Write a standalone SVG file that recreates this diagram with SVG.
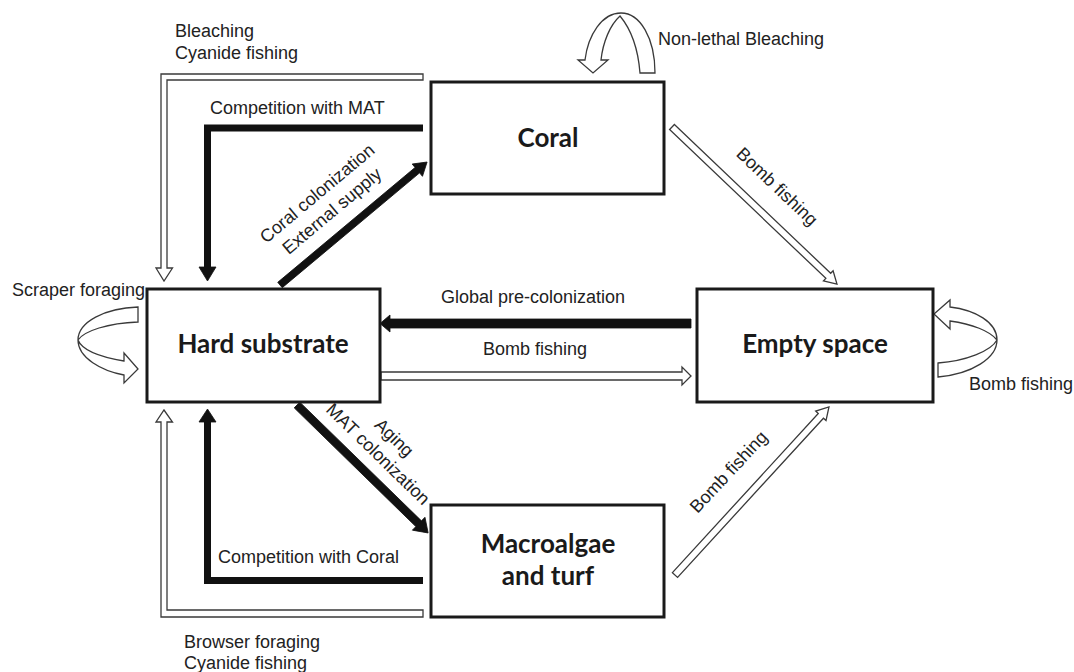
<svg xmlns="http://www.w3.org/2000/svg" width="1074" height="672" viewBox="0 0 1074 672">
<style>
.box{fill:#fff;stroke:#1a1a1a;stroke-width:3}
.node{font-family:Lato,"Liberation Sans",sans-serif;font-weight:700;font-size:26px;fill:#1a1a1a;text-anchor:middle}
.lbl{font-family:"Liberation Sans",Arial,sans-serif;font-size:18px;fill:#222}
.mid{text-anchor:middle}
.blk{fill:#111;stroke:#111;stroke-width:0.8;stroke-linejoin:miter}
.wht{fill:#fff;stroke:#3a3a3a;stroke-width:1.3;stroke-linejoin:miter}
.bline{fill:none;stroke:#111;stroke-width:7;stroke-linejoin:miter}
</style>
<rect width="1074" height="672" fill="#fff"/>
<g id="connectors">
  <!-- Bleaching / Cyanide fishing: Coral -> Hard substrate -->
  <path class="wht" d="M423,74 L161,74 L161,268 L156,268 L164,281 L172.5,268 L167,268 L167,80 L423,80 Z"/>
  <!-- Competition with MAT -->
  <polyline class="bline" points="423,128 207.5,128 207.5,268"/>
  <path class="blk" d="M199,267 L216,267 L207.5,281 Z"/>
  <!-- Coral colonization -->
  <path class="blk" transform="translate(280,285) rotate(-39.9)" d="M0,-3.5 L179,-3.5 L179,-8 L191.7,0 L179,8 L179,3.5 L0,3.5 Z"/>
  <!-- Non-lethal bleaching loop -->
  <path class="wht" d="M655,73 C655,38 640,13 621,13 C602,13 588,35 585,60 L578,60 L593,73 L608,60 L601,60 C603,42 610,25 620,16 C630,28 638,48 640,73 Z"/>
  <!-- Bomb fishing Coral -> Empty -->
  <path class="wht" transform="translate(672,127) rotate(43.6)" d="M0,-3.5 L215.8,-3.5 L215.8,-7 L227.8,0 L215.8,7 L215.8,3.5 L0,3.5 Z"/>
  <!-- Scraper foraging loop -->
  <path class="wht" d="M138,307 C105,308 78,322 78,340 C78,358 102,371 124,375 L124,383 L138,369 L124,353 L124,361 C100,357 82,350 78,340 C84,331 108,323 138,322 Z"/>
  <!-- Global pre-colonization -->
  <path class="blk" d="M691,319 L390,319 L390,315 L380,323.5 L390,332 L390,328 L691,328 Z"/>
  <!-- Bomb fishing Hard -> Empty -->
  <path class="wht" d="M381,372 L682,372 L682,367 L691,376 L682,385 L682,380 L381,380 Z"/>
  <!-- Empty space loop -->
  <path class="wht" d="M938,377 C972,374 997,358 997,340 C997,322 975,310 950,307 L950,300 L934,314 L950,329 L950,321 C972,324 990,331 997,340 C991,351 966,361 938,363 Z"/>
  <!-- MAT colonization -->
  <path class="blk" transform="translate(297,405) rotate(44.3)" d="M0,-4 L170,-4 L170,-9 L183.2,0 L170,9 L170,4 L0,4 Z"/>
  <!-- Bomb fishing Macroalgae -> Empty -->
  <path class="wht" transform="translate(675,575) rotate(-47.5)" d="M0,-3.5 L215.9,-3.5 L215.9,-7 L227.9,0 L215.9,7 L215.9,3.5 L0,3.5 Z"/>
  <!-- Competition with Coral -->
  <polyline class="bline" points="423,580.5 207.5,580.5 207.5,421"/>
  <path class="blk" d="M199,422 L216,422 L207.5,409 Z"/>
  <!-- Browser foraging / Cyanide fishing -->
  <path class="wht" d="M423,617 L161,617 L161,422 L156,422 L164,410 L172.5,422 L167,422 L167,610 L423,610 Z"/>
</g>
<g id="labels">
  <text class="lbl" x="175" y="37">Bleaching</text>
  <text class="lbl" x="175" y="59">Cyanide fishing</text>
  <text class="lbl" x="210" y="114">Competition with MAT</text>
  <text class="lbl" x="658" y="45">Non-lethal Bleaching</text>
  <text class="lbl mid" transform="translate(321,198) rotate(-40)"><tspan x="0" y="0">Coral colonization</tspan><tspan x="0" y="23">External supply</tspan></text>
  <text class="lbl mid" transform="translate(773,191) rotate(43.6)">Bomb fishing</text>
  <text class="lbl" x="12" y="296">Scraper foraging</text>
  <text class="lbl" x="441" y="303">Global pre-colonization</text>
  <text class="lbl mid" x="535" y="355">Bomb fishing</text>
  <text class="lbl" x="969" y="390">Bomb fishing</text>
  <text class="lbl mid" transform="translate(390,442) rotate(44.3)"><tspan x="0" y="0">Aging</tspan><tspan x="0" y="23">MAT colonization</tspan></text>
  <text class="lbl mid" transform="translate(733,476) rotate(-47)">Bomb fishing</text>
  <text class="lbl" x="218" y="563">Competition with Coral</text>
  <text class="lbl" x="184" y="648">Browser foraging</text>
  <text class="lbl" x="184" y="669">Cyanide fishing</text>
</g>
<g id="coral">
  <rect class="box" x="431" y="82" width="233" height="112"/>
  <text class="node" x="548" y="147">Coral</text>
</g>
<g id="hard-substrate">
  <rect class="box" x="147" y="289" width="233" height="113"/>
  <text class="node" x="263" y="353">Hard substrate</text>
</g>
<g id="empty-space">
  <rect class="box" x="697" y="289" width="236" height="113"/>
  <text class="node" x="815" y="353">Empty space</text>
</g>
<g id="macroalgae">
  <rect class="box" x="431" y="505" width="233" height="112"/>
  <text class="node" x="548" y="553">Macroalgae</text>
  <text class="node" x="548" y="585">and turf</text>
</g>
</svg>
